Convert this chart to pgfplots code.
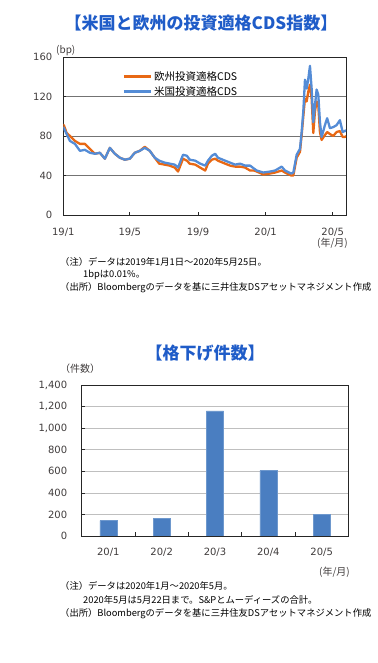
\documentclass[border=0pt]{standalone}
\usepackage{pgfplots}
\pgfplotsset{compat=1.18}
\usepackage{fontspec}
\setmainfont{Noto Sans CJK JP}
\newfontfamily\tickfont{DejaVu Sans}
\definecolor{ttl}{RGB}{31,92,200}
\definecolor{eu}{RGB}{232,104,20}
\definecolor{us}{RGB}{84,140,214}
\definecolor{bar}{RGB}{74,126,193}
\definecolor{tk}{RGB}{64,60,60}
\newcommand{\nf}{\fontsize{9.3}{11}\selectfont}
\begin{document}
\begin{tikzpicture}
\useasboundingbox (0,0) rectangle (377pt,663pt);
% ---------- top chart ----------
\node[font=\bfseries\fontsize{17}{19}\selectfont, text=ttl] at (201pt,640pt) {【米国と欧州の投資適格CDS指数】};
\node[anchor=west, font=\fontsize{10}{12}\selectfont, text=tk, inner sep=0pt] at (56pt,612pt) {(bp)};
\begin{axis}[
  at={(63.3pt,448pt)}, anchor=south west,
  scale only axis, width=282.7pt, height=158pt,
  xmin=0, xmax=510, ymin=0, ymax=160,
  ytick={0,40,80,120,160},
  xtick={0,120,243,365,486},
  xticklabels={19/1,19/5,19/9,20/1,20/5},
  tick align=inside, tick pos=left,
  major tick length=3pt,
  ymajorgrids, grid style={draw=black!55, line width=0.7pt},
  axis line style={draw=black!85, line width=0.7pt},
  tick style={draw=black!85, line width=0.7pt},
  ticklabel style={font=\tickfont\fontsize{10}{12}\selectfont, text=tk},
  /pgf/number format/assume math mode=true,
  yticklabel style={xshift=-7.5pt},
  xticklabel style={yshift=-10pt},
  legend style={draw=none, fill=none, at={(0.205,0.93)}, anchor=north west,
    font=\fontsize{10.5}{12}\selectfont, row sep=1pt, inner sep=1pt},
  legend cell align=left,
  legend image code/.code={\draw[#1, line width=2.6pt] (0pt,0pt) -- (27pt,0pt);},
]
\addplot[eu, line width=2.3pt, line join=round] coordinates {
(0,91)(1,91)(6,83)(12,80)(21,75)(30,72)(39,72)(48,67)(57,62)(66,63)(75,57)(84,68)(93,62)(102,58)(111,56)(120,57)(129,63)(138,65)(147,69)(156,65)(165,58)(173,52)(183,51)(192,50)(201,48)(207,44)(216,57)(223,55)(228,52)(238,51)(247,48)(256,45)(261,52)(268,56)(274,57)(279,55)(292,52)(301,50)(310,49)(319,49)(328,48)(337,45)(344,45)(349,44)(361,41)(373,42)(382,43)(394,45)(400,43)(411,40)(415,40)(421,58)(427,64)(430,81)(433,100)(436,118)(439,115)(442,125)(445,132)(448,118)(451,83)(454,105)(457,115)(460,111)(463,84)(466,76)(472,81)(476,84)(481,82)(487,80)(493,84)(499,85)(504,79)(508,79)(510,80)
};
\addlegendentry{欧州投資適格CDS}
\addplot[us, line width=2.3pt, line join=round] coordinates {
(0,89)(1,88)(6,82)(12,75)(21,72)(30,65)(39,66)(48,63)(57,62)(66,63)(75,57)(84,68)(93,62)(102,58)(111,56)(120,57)(129,63)(138,65)(147,68)(156,65)(165,58)(173,55)(183,53)(192,52)(201,51)(207,48)(216,61)(223,60)(228,56)(238,55)(247,52)(256,50)(261,55)(268,60)(274,62)(279,58)(292,55)(301,53)(310,51)(319,52)(328,50)(337,50)(344,47)(349,45)(361,43)(373,44)(382,45)(394,49)(400,45)(411,42)(415,43)(421,61)(427,67)(430,84)(433,105)(436,137)(439,128)(442,138)(445,151)(448,128)(451,94)(454,111)(457,127)(460,122)(463,94)(466,79)(472,91)(476,98)(481,88)(487,89)(493,91)(499,96)(504,84)(508,85)(510,86)
};
\addlegendentry{米国投資適格CDS}
\end{axis}
\node[font=\fontsize{10}{12}\selectfont, text=tk] at (332.5pt,420pt) {(年/月)};
\node[anchor=west, font=\nf, inner sep=0pt] at (60pt,401pt) {（注）データは2019年1月1日～2020年5月25日。};
\node[anchor=west, font=\nf, inner sep=0pt] at (83pt,388pt) {1bpは0.01\%。};
\node[anchor=west, font=\nf, inner sep=0pt] at (60pt,375pt) {（出所）Bloombergのデータを基に三井住友DSアセットマネジメント作成};
% ---------- bottom chart ----------
\node[font=\bfseries\fontsize{17}{19}\selectfont, text=ttl] at (205pt,310pt) {【格下げ件数】};
\node[anchor=west, font=\fontsize{10}{12}\selectfont, text=tk, inner sep=0pt] at (60pt,294pt) {（件数）};
\begin{axis}[
  at={(81.7pt,127pt)}, anchor=south west,
  scale only axis, width=266.6pt, height=151pt,
  xmin=-0.5, xmax=4.5, ymin=0, ymax=1400,
  ytick={0,200,...,1400},
  xtick={0,1,2,3,4},
  xticklabels={20/1,20/2,20/3,20/4,20/5},
  minor xtick={0.5,1.5,2.5,3.5},
  tick align=inside, tick pos=left,
  major x tick style={draw=none},
  major tick length=3pt, minor tick length=4pt,
  ymajorgrids, grid style={draw=black!25, line width=0.7pt},
  axis line style={draw=black!85, line width=0.7pt},
  tick style={draw=black!85, line width=0.7pt},
  ticklabel style={font=\tickfont\fontsize{10}{12}\selectfont, text=tk},
  /pgf/number format/assume math mode=true,
  /pgf/number format/1000 sep={,},
  yticklabel style={xshift=-11pt},
  xticklabel style={yshift=-8.5pt},
]
\addplot[ybar, bar width=17pt, fill=bar, draw=bar!80!white, line width=0.5pt] coordinates {
(0,143)(1,163)(2,1160)(3,605)(4,200)
};
\end{axis}
\node[font=\fontsize{10}{12}\selectfont, text=tk] at (334.5pt,91pt) {(年/月)};
\node[anchor=west, font=\nf, inner sep=0pt] at (60pt,77pt) {（注）データは2020年1月～2020年5月。};
\node[anchor=west, font=\nf, inner sep=0pt] at (83pt,63pt) {2020年5月は5月22日まで。S\&Pとムーディーズの合計。};
\node[anchor=west, font=\nf, inner sep=0pt] at (60pt,49pt) {（出所）Bloombergのデータを基に三井住友DSアセットマネジメント作成};
\end{tikzpicture}
\end{document}
